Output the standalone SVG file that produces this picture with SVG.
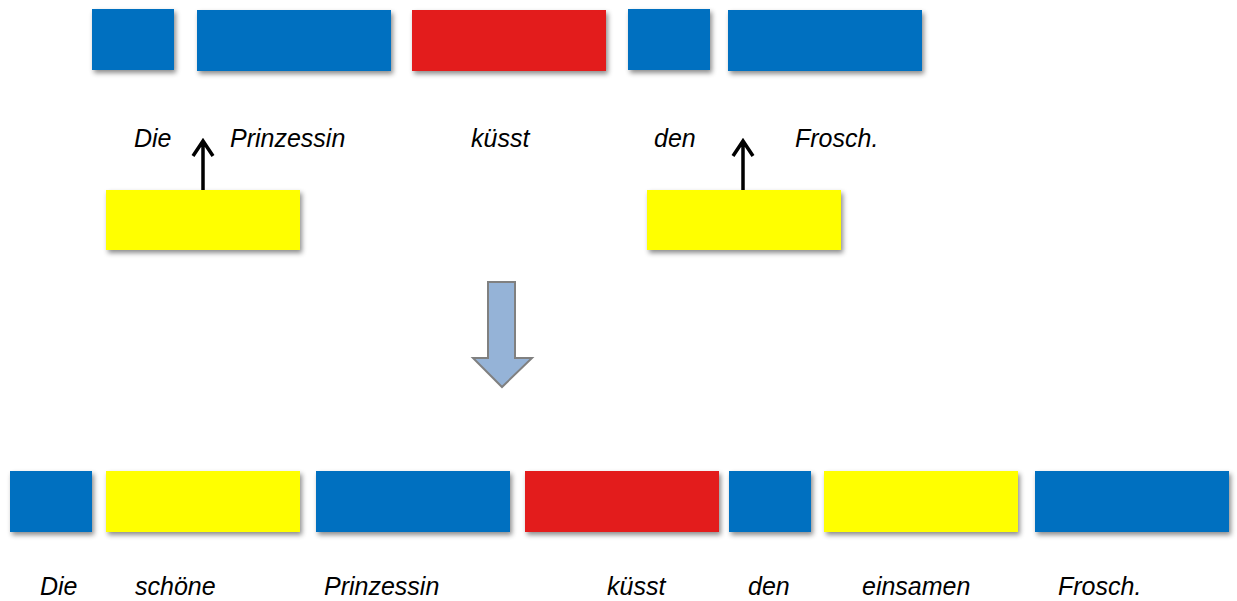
<svg xmlns="http://www.w3.org/2000/svg" width="1237" height="601" viewBox="0 0 1237 601">
<defs>
<filter id="sh" x="-10%" y="-20%" width="125%" height="160%">
<feDropShadow dx="2" dy="3" stdDeviation="2.5" flood-color="#000" flood-opacity="0.45"/>
</filter>
</defs>
<style>
.b{fill:#0070C0;filter:url(#sh)}
.r{fill:#E31B1D;filter:url(#sh)}
.y{fill:#FFFF00;filter:url(#sh)}
.t{font-family:"Liberation Sans",Arial,sans-serif;font-style:italic;font-size:25px;fill:#000}
.c{stroke:#000;stroke-width:3.5;fill:none}
</style>
<rect width="1237" height="601" fill="#fff"/>
<g id="top-boxes">
<rect id="t1" class="b" x="92" y="9" width="82" height="61"/>
<rect id="t2" class="b" x="197" y="10" width="194" height="61"/>
<rect id="t3" class="r" x="412" y="10" width="194" height="61"/>
<rect id="t4" class="b" x="628" y="9" width="82" height="61"/>
<rect id="t5" class="b" x="728" y="10" width="194" height="61"/>
</g>
<g id="top-words">
<text class="t" x="134" y="147">Die</text>
<text class="t" x="230" y="147">Prinzessin</text>
<text class="t" x="471" y="147">küsst</text>
<text class="t" x="654" y="147">den</text>
<text class="t" x="795" y="147">Frosch.</text>
</g>
<g id="insert-boxes">
<rect id="y1" class="y" x="106" y="190" width="194" height="60"/>
<rect id="y2" class="y" x="647" y="190" width="194" height="60"/>
</g>
<g id="connectors">
<path class="c" d="M203 190V141M193 156L203 141L213 156"/>
<path class="c" d="M743 190V141M733 156L743 141L753 156"/>
<path d="M488 282H515V358H532L502 387L473 358H488Z" fill="#95B3D7" stroke="#808080" stroke-width="2"/>
</g>
<g id="bottom-boxes">
<rect id="b1" class="b" x="10" y="471" width="82" height="61"/>
<rect id="b2" class="y" x="106" y="471" width="194" height="61"/>
<rect id="b3" class="b" x="316" y="471" width="194" height="61"/>
<rect id="b4" class="r" x="525" y="471" width="194" height="61"/>
<rect id="b5" class="b" x="729" y="471" width="82" height="61"/>
<rect id="b6" class="y" x="824" y="471" width="194" height="61"/>
<rect id="b7" class="b" x="1035" y="471" width="194" height="61"/>
</g>
<g id="bottom-words">
<text class="t" x="40" y="595">Die</text>
<text class="t" x="135" y="595">schöne</text>
<text class="t" x="324" y="595">Prinzessin</text>
<text class="t" x="607" y="595">küsst</text>
<text class="t" x="748" y="595">den</text>
<text class="t" x="862" y="595">einsamen</text>
<text class="t" x="1058" y="595">Frosch.</text>
</g>
</svg>
